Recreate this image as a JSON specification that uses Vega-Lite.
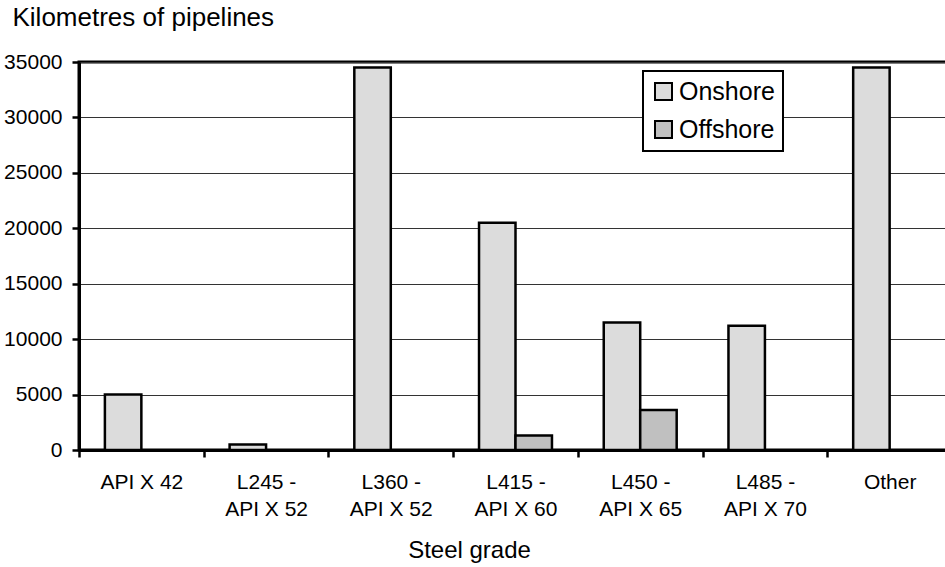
{
  "$schema": "https://vega.github.io/schema/vega-lite/v6.json",
  "autosize": {"type": "none"},
  "padding": {"left": 79, "top": 62, "right": 0, "bottom": 117},
  "width": 873,
  "height": 388,
  "background": "#ffffff",
  "config": {
    "font": "Liberation Sans",
    "view": {"stroke": "#000000", "strokeWidth": 3},
    "axis": {"labelColor": "#000000", "titleColor": "#000000", "titleFontWeight": "normal"},
    "legend": {"strokeWidth": 2}
  },
  "data": {
    "values": [
      {"grade": "API X 42", "location": "Onshore", "km": 5000},
      {"grade": "API X 42", "location": "Offshore", "km": 0},
      {"grade": "L245 - API X 52", "location": "Onshore", "km": 500},
      {"grade": "L245 - API X 52", "location": "Offshore", "km": 0},
      {"grade": "L360 - API X 52", "location": "Onshore", "km": 34500},
      {"grade": "L360 - API X 52", "location": "Offshore", "km": 0},
      {"grade": "L415 - API X 60", "location": "Onshore", "km": 20500},
      {"grade": "L415 - API X 60", "location": "Offshore", "km": 1300},
      {"grade": "L450 - API X 65", "location": "Onshore", "km": 11500},
      {"grade": "L450 - API X 65", "location": "Offshore", "km": 3600},
      {"grade": "L485 - API X 70", "location": "Onshore", "km": 11200},
      {"grade": "L485 - API X 70", "location": "Offshore", "km": 0},
      {"grade": "Other", "location": "Onshore", "km": 34500},
      {"grade": "Other", "location": "Offshore", "km": 0}
    ]
  },
  "transform": [{"filter": "datum.km > 0"}],
  "mark": {"type": "bar", "stroke": "#000000", "strokeWidth": 2.5},
  "encoding": {
    "x": {
      "field": "grade",
      "type": "nominal",
      "sort": null,
      "scale": {
        "domain": ["API X 42", "L245 - API X 52", "L360 - API X 52", "L415 - API X 60", "L450 - API X 65", "L485 - API X 70", "Other"],
        "paddingInner": 0,
        "paddingOuter": 0
      },
      "axis": {
        "title": "Steel grade",
        "titleFontSize": 24,
        "titleX": 390,
        "titleY": 107,
        "titleAlign": "center",
        "titleBaseline": "alphabetic",
        "labelAngle": 0,
        "labelFontSize": 21,
        "labelLineHeight": 27,
        "labelBaseline": "top",
        "labelPadding": 14,
        "labelExpr": "split(replace(datum.label, ' - ', ' -|'), '|')",
        "tickBand": "extent",
        "tickSize": 7,
        "tickWidth": 2.5,
        "tickColor": "#000000",
        "domainColor": "#000000",
        "domainWidth": 3,
        "grid": false
      }
    },
    "xOffset": {
      "field": "location",
      "type": "nominal",
      "sort": ["Onshore", "Offshore"],
      "scale": {"domain": ["Onshore", "Offshore"], "paddingInner": 0, "paddingOuter": 0.71}
    },
    "y": {
      "field": "km",
      "type": "quantitative",
      "scale": {"domain": [0, 35000], "nice": false},
      "axis": {
        "title": "Kilometres of pipelines",
        "titleFontSize": 26,
        "titleAngle": 0,
        "titleAlign": "left",
        "titleBaseline": "alphabetic",
        "titleX": -67,
        "titleY": -37,
        "values": [0, 5000, 10000, 15000, 20000, 25000, 30000, 35000],
        "format": "d",
        "labelFontSize": 21,
        "labelPadding": 10,
        "tickSize": 7,
        "tickWidth": 2.5,
        "tickColor": "#000000",
        "domainColor": "#000000",
        "domainWidth": 3,
        "grid": true,
        "gridColor": "#333333",
        "gridWidth": 1
      }
    },
    "fill": {
      "field": "location",
      "type": "nominal",
      "scale": {"domain": ["Onshore", "Offshore"], "range": ["#dcdcdc", "#c0c0c0"]},
      "legend": {
        "title": null,
        "orient": "none",
        "legendX": 564,
        "legendY": 9,
        "direction": "vertical",
        "strokeColor": "#000000",
        "fillColor": "#ffffff",
        "padding": 8,
        "symbolType": "square",
        "symbolSize": 289,
        "symbolStrokeColor": "#000000",
        "symbolStrokeWidth": 2,
        "symbolOpacity": 1,
        "labelFontSize": 25,
        "labelColor": "#000000",
        "labelOffset": 3,
        "rowPadding": 12
      }
    }
  }
}
